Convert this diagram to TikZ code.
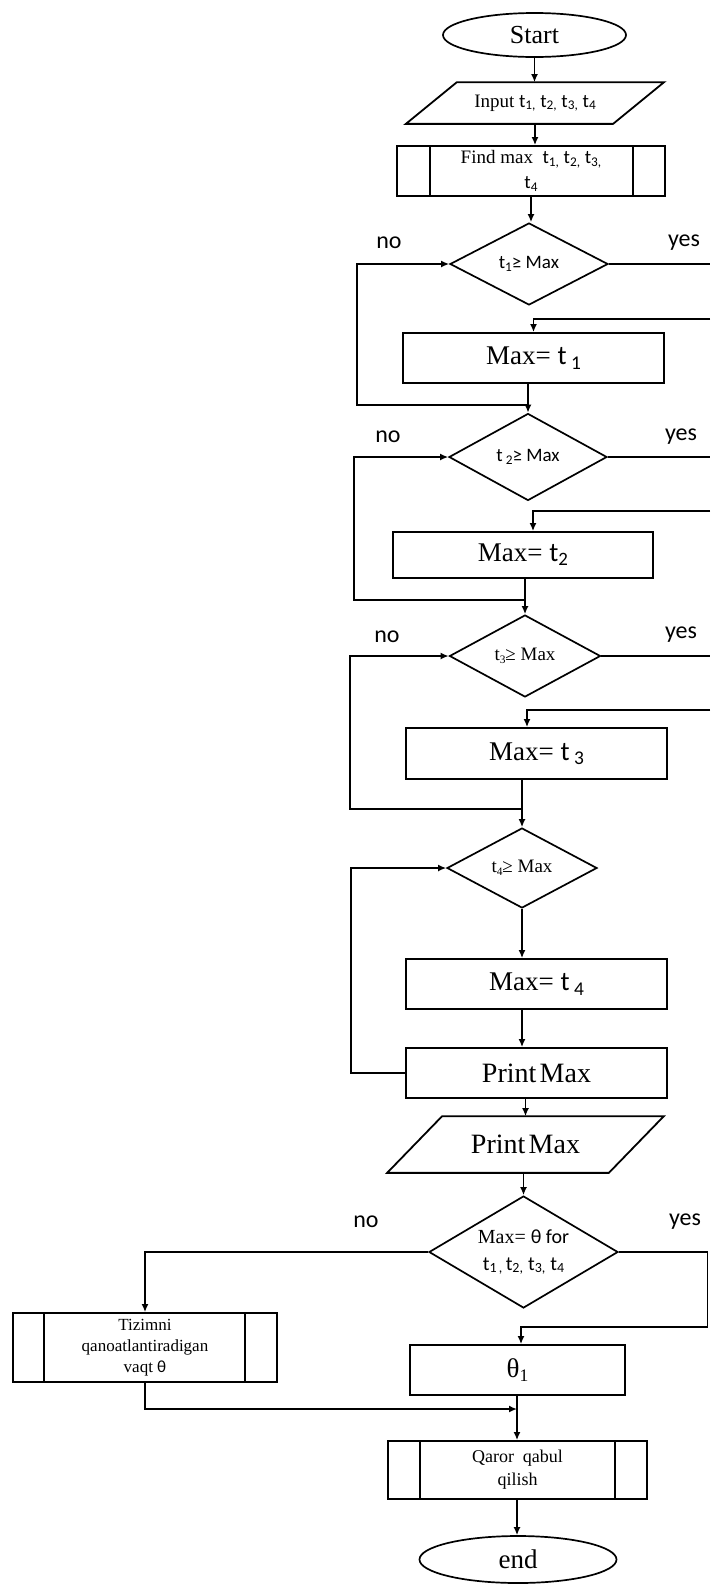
\documentclass[tikz,border=0pt]{standalone}
\usepackage{fontspec}
\setmainfont{Liberation Serif}
\setsansfont{Carlito}
\usetikzlibrary{shapes.geometric,arrows.meta}
\newcommand{\fs}[2]{\fontsize{#1}{#2}\selectfont}
\newcommand{\tsb}[1]{\textsf{t}\raisebox{-0.3ex}{\scalebox{0.7}{\textsf{#1}}}}
\newcommand{\tbig}[1]{\textsf{t}\,\raisebox{-0.35ex}{\scalebox{0.72}{\textsf{#1}}}}
\newcommand{\trm}[1]{t\raisebox{-0.3ex}{\scalebox{0.6}{#1}}}
\begin{document}
\begin{tikzpicture}[x=1pt,y=-1pt,line width=1.7pt,
  arr/.style={-{Latex[length=8pt,width=7pt]}},
  box/.style={draw,rectangle,inner sep=0pt,align=center,line width=1.8pt},
  term/.style={draw,ellipse,inner sep=0pt,line width=1.7pt},
  dec/.style={draw,diamond,inner sep=0pt,align=center,line width=1.7pt},
  io/.style={inner sep=0pt,align=center},
  lbl/.style={font=\sffamily\fs{24}{28},inner sep=0pt}]
\useasboundingbox (0,0) rectangle (710,1585);

% ---- nodes ----
\node[term,minimum width=183,minimum height=44,font=\fs{26}{30}] (start) at (534.5,35) {Start};

\node[io,minimum width=205.5,minimum height=40,font=\fs{19}{23}] (inp) at (535,103)
  {Input \tsb{1,}\ \tsb{2,}\ \tsb{3,}\ \tsb{4}};
\draw[line width=1.8pt] ([xshift=25.5pt]inp.north west) -- ([xshift=25.5pt]inp.north east)
   -- ([xshift=-25.5pt]inp.south east) -- ([xshift=-25.5pt]inp.south west) -- cycle;

\node[box,minimum width=268,minimum height=50,font=\fs{19}{25}] (find) at (531,171)
  {Find max\ \ \tsb{1,}\ \tsb{2,}\ \tsb{3,}\\ \tsb{4}};
\draw[line width=1.8pt] ([xshift=34pt]find.north west) -- ([xshift=34pt]find.south west);
\draw[line width=1.8pt] ([xshift=-33pt]find.north east) -- ([xshift=-33pt]find.south east);

\node[dec,aspect=1.9,minimum width=158,minimum height=82,font=\sffamily\fs{19}{22}] (d1) at (529,264) {\tsb{1}≥ Max};
\node[box,minimum width=261,minimum height=50,font=\fs{27}{30}] (m1) at (533.5,358) {Max= \tbig{1}};

\node[dec,aspect=1.8,minimum width=158,minimum height=87,font=\sffamily\fs{19}{22}] (d2) at (528,457) {t\,\raisebox{-0.3ex}{\scalebox{0.7}{2}}≥ Max};
\node[box,minimum width=260,minimum height=46,font=\fs{27}{30}] (m2) at (523,555) {Max= \tsb{2}};

\node[dec,aspect=1.85,minimum width=151,minimum height=82,font=\fs{19}{22}] (d3) at (525,656) {\trm{3}≥ Max};
\node[box,minimum width=261,minimum height=51,font=\fs{27}{30}] (m3) at (536.5,753.5) {Max= \tbig{3}};

\node[dec,aspect=1.85,minimum width=150,minimum height=80,font=\fs{19}{22}] (d4) at (522,868) {\trm{4}≥ Max};
\node[box,minimum width=261,minimum height=50,font=\fs{27}{30}] (m4) at (536.5,984) {Max= \tbig{4}};
\node[box,minimum width=261,minimum height=50,font=\fs{28}{30}] (pmb) at (536.5,1073) {Print\hspace{0.12em}Max};

\node[io,minimum width=220,minimum height=55,font=\fs{28}{30}] (ppar) at (525.5,1144.5) {Print\hspace{0.12em}Max};
\draw[line width=1.8pt] ([xshift=27.5pt]ppar.north west) -- ([xshift=27.5pt]ppar.north east)
   -- ([xshift=-27.5pt]ppar.south east) -- ([xshift=-27.5pt]ppar.south west) -- cycle;

\node[dec,aspect=1.69,minimum width=189,minimum height=112,font=\fs{20}{27}] (d5) at (523.5,1252)
  {Max=~\textsf{θ for}\\ \tsb{1\,,}\,\tsb{2,}\ \tsb{3,}\ \tsb{4}};

\node[box,minimum width=264,minimum height=69,font=\fs{17}{21}] (tz) at (145,1347.5)
  {Tizimni\\ qanoatlantiradigan\\ vaqt \textsf{θ}};
\draw[line width=1.8pt] ([xshift=32pt]tz.north west) -- ([xshift=32pt]tz.south west);
\draw[line width=1.8pt] ([xshift=-33pt]tz.north east) -- ([xshift=-33pt]tz.south east);

\node[box,minimum width=215,minimum height=50,font=\fs{27}{30}] (th) at (517.5,1370) {θ\raisebox{-0.35ex}{\scalebox{0.65}{1}}};

\node[box,minimum width=259,minimum height=58,font=\fs{18}{23}] (qa) at (517.5,1470) {Qaror\ \ qabul\\ qilish};
\draw[line width=1.8pt] ([xshift=33pt]qa.north west) -- ([xshift=33pt]qa.south west);
\draw[line width=1.8pt] ([xshift=-33pt]qa.north east) -- ([xshift=-33pt]qa.south east);

\node[term,minimum width=197,minimum height=47,font=\fs{27}{30}] (en) at (518,1559.5) {end};

% ---- labels ----
\node[lbl] (no1) at (389,243) {no};
\node[lbl] (yes1) at (684,243) {yes};
\node[lbl] (no2) at (388,437) {no};
\node[lbl] (yes2) at (681,437) {yes};
\node[lbl] (no3) at (387,637) {no};
\node[lbl] (yes3) at (681,635) {yes};
\node[lbl] (no5) at (366,1222) {no};
\node[lbl] (yes5) at (685,1222) {yes};

% ---- coordinates ----
\coordinate (r1) at (710,319);
\coordinate (j1) at (528,405);
\coordinate (L1) at (357,405);
\coordinate (r2) at (710,511);
\coordinate (c2) at (533,511);
\coordinate (j2) at (525,600);
\coordinate (L2) at (354,600);
\coordinate (r3) at (710,710);
\coordinate (c3) at (527,710);
\coordinate (j3) at (522,809);
\coordinate (L3) at (350,809);
\coordinate (L4) at (351,1073);
\coordinate (r5) at (707.5,1327);
\coordinate (c5) at (521,1327);
\coordinate (jm) at (517,1409);

% ---- connectors ----
\draw[arr] (start.south) -- (start.south |- inp.north);
\draw[arr] (inp.south) -- (inp.south |- find.north);
\draw[arr] (find.south) -- (find.south |- d1.north);

\draw (d1.east) -- (d1.east -| r1);
\draw[arr] (r1) -| (m1.north);
\draw[arr] (m1.south -| j1) -- (d2.north -| j1);
\draw[arr] (j1) -- (L1) |- (d1.west);

\draw (d2.east) -- (d2.east -| r2);
\draw[arr] (r2) -- (c2) -- (c2 |- m2.north);
\draw[arr] (m2.south -| j2) -- (d3.north -| j2);
\draw[arr] (j2) -- (L2) |- (d2.west);

\draw (d3.east) -- (d3.east -| r3);
\draw[arr] (r3) -- (c3) -- (c3 |- m3.north);
\draw[arr] (m3.south -| j3) -- (d4.north -| j3);
\draw[arr] (j3) -- (L3) |- (d3.west);

\draw[arr] (d4.south) -- (d4.south |- m4.north);
\draw[arr] (m4.south -| d4.south) -- (pmb.north -| d4.south);
\draw[arr] (pmb.west) -- (L4) |- (d4.west);
\draw[arr] (ppar.north |- pmb.south) -- (ppar.north);
\draw[arr] (d5.north |- ppar.south) -- (d5.north);

\draw[arr] (d5.west) -| (tz.north);
\draw[arr] (d5.east) -- (d5.east -| r5) -- (r5) -- (c5) -- (c5 |- th.north);
\draw[arr] (th.south -| jm) -- (qa.north -| jm);
\draw[arr] (tz.south) |- (jm);
\draw[arr] (qa.south -| jm) -- (en.north -| jm);
\end{tikzpicture}
\end{document}
